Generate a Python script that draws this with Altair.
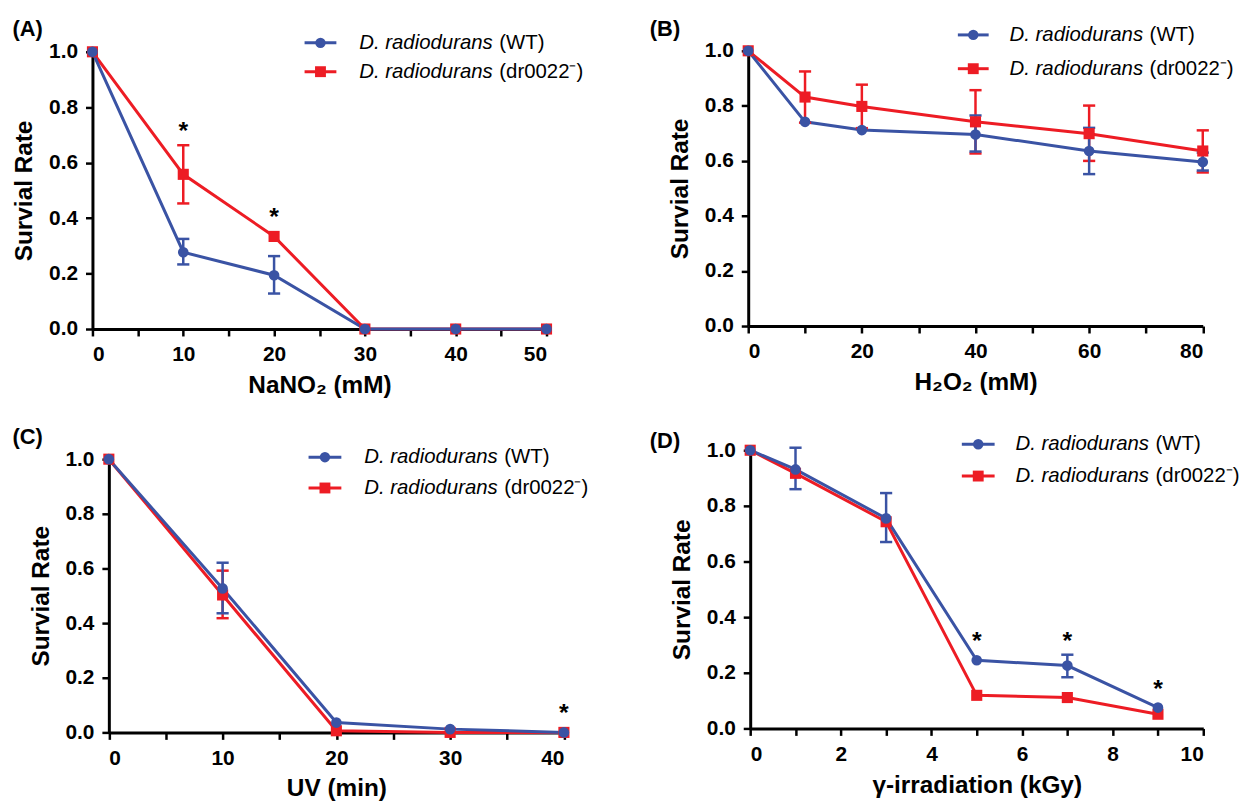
import altair as alt
import pandas as pd

FONT = "Liberation Sans"
BLUE = "#3A53A4"
RED = "#ED1C24"

SERIES_NAME = "D. radiodurans"
SERIES_SUFFIX = ["(WT)", "(dr0022\u207b)"]
Y_TITLE = "Survial Rate"
Y_TICKS = [0.0, 0.2, 0.4, 0.6, 0.8, 1.0]

# ---- Panel A: NaNO2 ----
A_X = [0, 10, 20, 30, 40, 50]
A_WT = [1.0, 0.277, 0.194, 0.0, 0.0, 0.0]
A_DR = [1.0, 0.558, 0.334, 0.0, 0.0, 0.0]
A_WT_EX = [10, 20]
A_WT_LO = [0.233, 0.128]
A_WT_HI = [0.325, 0.263]
A_DR_EX = [10]
A_DR_LO = [0.453]
A_DR_HI = [0.663]
A_STAR_X = [10, 20]
A_STAR_Y = [0.73, 0.42]

# ---- Panel B: H2O2 ----
B_X = [0, 10, 20, 40, 60, 80]
B_WT = [1.0, 0.742, 0.712, 0.696, 0.636, 0.596]
B_DR = [1.0, 0.832, 0.798, 0.742, 0.699, 0.636]
B_WT_EX = [40, 60, 80]
B_WT_LO = [0.634, 0.552, 0.565]
B_WT_HI = [0.765, 0.720, 0.630]
B_DR_EX = [10, 20, 40, 60, 80]
B_DR_LO = [0.739, 0.719, 0.627, 0.600, 0.558]
B_DR_HI = [0.925, 0.877, 0.857, 0.801, 0.711]
B_STAR_X = []
B_STAR_Y = []

# ---- Panel C: UV ----
C_X = [0, 10, 20, 30, 40]
C_WT = [1.0, 0.527, 0.036, 0.012, 0.0]
C_DR = [1.0, 0.503, 0.006, 0.0, 0.0]
C_WT_EX = [10]
C_WT_LO = [0.436]
C_WT_HI = [0.621]
C_DR_EX = [10]
C_DR_LO = [0.418]
C_DR_HI = [0.592]
C_STAR_X = [40]
C_STAR_Y = [0.085]

# ---- Panel D: gamma ----
D_X = [0, 1, 3, 5, 7, 9]
D_WT = [1.0, 0.931, 0.755, 0.245, 0.226, 0.075]
D_DR = [1.0, 0.917, 0.743, 0.119, 0.111, 0.051]
D_WT_EX = [1, 3, 7]
D_WT_LO = [0.860, 0.670, 0.184]
D_WT_HI = [1.009, 0.846, 0.265]
D_DR_EX = []
D_DR_LO = []
D_DR_HI = []
D_STAR_X = [5, 7, 9]
D_STAR_Y = [0.33, 0.33, 0.157]

ONE = alt.Data(values=[{"k": 1}])
LEG_FS = 20.5
LEG_GAP = 141


def fixed_text(text, x, y, size, weight="normal", style="normal", align="left"):
    return alt.Chart(ONE).mark_text(
        text=text, font=FONT, fontSize=size, fontWeight=weight, fontStyle=style,
        align=align, baseline="middle", color="black"
    ).encode(x=alt.value(x), y=alt.value(y))


def legend_layers(gx1, gx2, tx, rows, ox, oy):
    out = []
    specs = [(BLUE, "circle", 110, SERIES_SUFFIX[0]), (RED, "square", 120, SERIES_SUFFIX[1])]
    for (color, shape, size, suffix), ry in zip(specs, rows):
        ry = ry + oy
        out.append(alt.Chart(ONE).mark_rule(color=color, strokeWidth=3).encode(
            x=alt.value(gx1 + ox), x2=alt.value(gx2 + ox), y=alt.value(ry)))
        out.append(alt.Chart(ONE).mark_point(shape=shape, filled=True, color=color,
                                              size=size, opacity=1).encode(
            x=alt.value((gx1 + gx2) / 2 + ox), y=alt.value(ry)))
        out.append(fixed_text(SERIES_NAME, tx + ox, ry, LEG_FS, style="italic"))
        out.append(fixed_text(suffix, tx + ox + LEG_GAP, ry, LEG_FS))
    return out


def panel(x, wt, dr, wt_err, dr_err, stars, xmax, xticks, xstep, xtitle,
          letter, box, label_pos, leg, anchor=False):
    ox, oy, pw, ph = box
    xs = alt.Scale(domain=[0, xmax], nice=False, zero=True, range=[ox, ox + pw])
    ys = alt.Scale(domain=[0, 1], nice=False, range=[oy + ph, oy])
    xax = alt.Axis(values=xticks, labelOverlap=False, title=xtitle,
                   labelExpr=f"datum.value % {xstep} == 0 ? datum.label : ''")
    yax = alt.Axis(values=Y_TICKS, format=".1f", title=Y_TITLE, labelOverlap=False,
                   offset=-ox)

    def X(f="x"):
        return alt.X(f"{f}:Q", scale=xs, axis=xax)

    def Y(f):
        return alt.Y(f"{f}:Q", scale=ys, axis=yax)

    layers = []
    df_dr = pd.DataFrame({"x": x, "y": dr})
    df_wt = pd.DataFrame({"x": x, "y": wt})
    layers.append(alt.Chart(df_dr).mark_line(color=RED, strokeWidth=3).encode(x=X(), y=Y("y")))
    layers.append(alt.Chart(df_wt).mark_line(color=BLUE, strokeWidth=3).encode(x=X(), y=Y("y")))
    for color, (ex, lo, hi) in [(RED, dr_err), (BLUE, wt_err)]:
        if len(ex) == 0:
            continue
        de = pd.DataFrame({"x": ex, "lo": lo, "hi": hi})
        layers.append(alt.Chart(de).mark_rule(color=color, strokeWidth=2.5).encode(
            x=X(), y=Y("lo"), y2="hi:Q"))
        for f in ["lo", "hi"]:
            layers.append(alt.Chart(de).mark_point(shape="stroke", size=150, strokeWidth=2.5,
                                                   color=color, opacity=1).encode(x=X(), y=Y(f)))
    layers.append(alt.Chart(df_dr).mark_point(shape="square", filled=True, size=125,
                                              color=RED, opacity=1).encode(x=X(), y=Y("y")))
    layers.append(alt.Chart(df_wt).mark_point(shape="circle", filled=True, size=115,
                                              color=BLUE, opacity=1).encode(x=X(), y=Y("y")))
    if len(stars[0]):
        ds = pd.DataFrame({"x": stars[0], "y": stars[1]})
        layers.append(alt.Chart(ds).mark_text(text="*", font=FONT, fontSize=25, fontWeight="bold",
                                              color="black", baseline="middle", dy=4).encode(
            x=X(), y=Y("y")))
    layers += legend_layers(*leg, ox, oy)
    layers.append(fixed_text(letter, label_pos[0] + ox, label_pos[1] + oy, 22, weight="bold"))
    if anchor:
        # invisible corner marker that fixes the outer bounds of the figure
        layers.append(alt.Chart(ONE).mark_rule(opacity=0, strokeWidth=1).encode(
            x=alt.value(-85), x2=alt.value(-85), y=alt.value(-40), y2=alt.value(-40)))
    return alt.layer(*layers).properties(width=ox + pw, height=oy + ph)


pA = panel(A_X, A_WT, A_DR, (A_WT_EX, A_WT_LO, A_WT_HI), (A_DR_EX, A_DR_LO, A_DR_HI),
           (A_STAR_X, A_STAR_Y), 50, list(range(0, 51, 5)), 10, "NaNO\u2082 (mM)",
           "(A)", (0, 0, 457, 279), (-80.5, -22.5), (213.5, 245.5, 268.5, (-9, 20)),
           anchor=True)
pB = panel(B_X, B_WT, B_DR, (B_WT_EX, B_WT_LO, B_WT_HI), (B_DR_EX, B_DR_LO, B_DR_HI),
           (B_STAR_X, B_STAR_Y), 80, list(range(0, 81, 10)), 20, "H\u2082O\u2082 (mM)",
           "(B)", (0, -1, 457.5, 277), (-99, -22), (211, 242, 263, (-16, 18)))
pC = panel(C_X, C_WT, C_DR, (C_WT_EX, C_WT_LO, C_WT_HI), (C_DR_EX, C_DR_LO, C_DR_HI),
           (C_STAR_X, C_STAR_Y), 40, list(range(0, 41, 5)), 10, "UV (min)",
           "(C)", (16.5, 9, 458, 275), (-97, -22), (201, 234, 257, (-2, 29)))
pD = panel(D_X, D_WT, D_DR, (D_WT_EX, D_WT_LO, D_WT_HI), (D_DR_EX, D_DR_LO, D_DR_HI),
           (D_STAR_X, D_STAR_Y), 10, list(range(0, 11, 1)), 2, "\u03b3-irradiation (kGy)",
           "(D)", (2, 0, 456, 280), (-101, -9), (213, 246, 267, (-6, 26)))

chart = alt.concat(pA, pB, pC, pD, columns=2, bounds="flush",
                   spacing={"row": 122, "column": 185}).properties(
    padding={"left": 0, "top": 1.5, "right": 5, "bottom": 5}
).configure_view(stroke=None).configure_axis(
    grid=False, domainColor="black", domainWidth=3, tickColor="black", tickWidth=2.5,
    tickSize=7, labelFont=FONT, labelFontSize=21, labelFontWeight="bold", labelColor="black",
    titleFont=FONT, titleFontSize=24.5, titleFontWeight="bold", titleColor="black"
).configure_axisX(labelPadding=8, titlePadding=9).configure_axisY(labelPadding=8, titlePadding=12)

chart.save("out.html", embed_options={"renderer": "svg", "actions": False})
